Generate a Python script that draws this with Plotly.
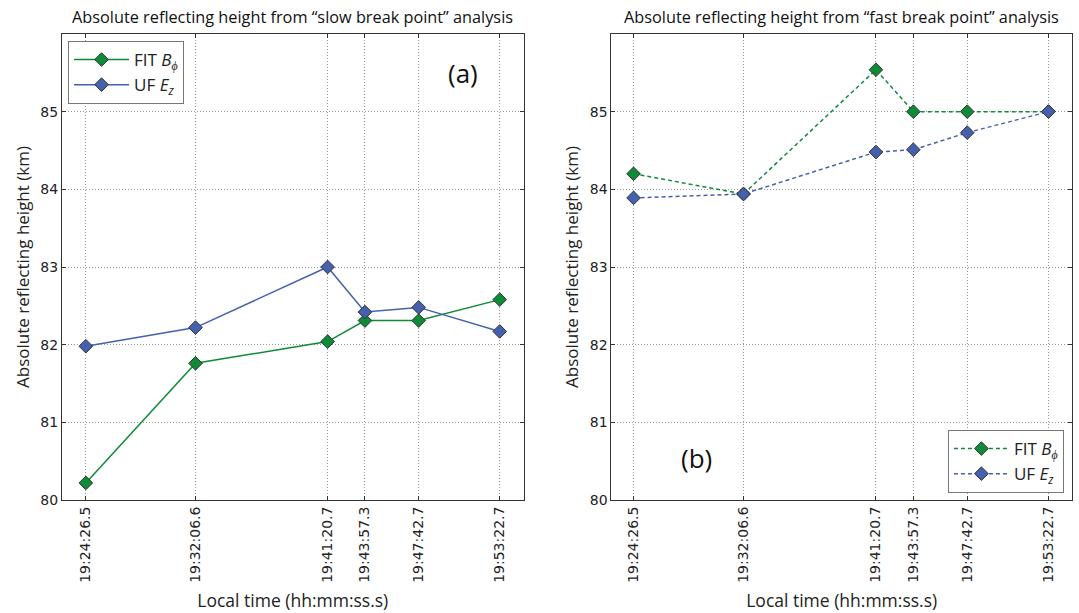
import plotly.graph_objects as go

# Observation times (local) and tick labels
times = ["19:24:26.5", "19:32:06.6", "19:41:20.7", "19:43:57.3", "19:47:42.7", "19:53:22.7"]
day = "2000-01-01 "
x_times = [day + t for t in times]

# Slow break point analysis (km)
slow_fit_bphi = [80.22, 81.76, 82.04, 82.31, 82.31, 82.58]
slow_uf_ez = [81.98, 82.22, 83.00, 82.42, 82.48, 82.17]

# Fast break point analysis (km)
fast_fit_bphi = [84.20, 83.94, 85.54, 85.00, 85.00, 85.00]
fast_uf_ez = [83.89, 83.94, 84.48, 84.51, 84.73, 85.00]

GREEN = "#0f8a38"
BLUE = "#4561ad"
TICK_FONT = dict(family="DejaVu Sans", size=14, color="#222")

fig = go.Figure()

def add_series(x, y, name, color, xaxis, yaxis, legend, dash):
    fig.add_trace(go.Scatter(
        x=x, y=y, name=name, mode="lines+markers",
        xaxis=xaxis, yaxis=yaxis, legend=legend,
        line=dict(color=color, width=1.5, dash=dash),
        marker=dict(symbol="diamond", size=10.5, color=color,
                    line=dict(color="#333", width=1)),
    ))

fit_name = "FIT <i>B</i><sub><i>ϕ</i></sub>"
uf_name = "UF <i>E</i><sub><i>z</i></sub>"

add_series(x_times, slow_fit_bphi, fit_name, GREEN, "x", "y", "legend", "solid")
add_series(x_times, slow_uf_ez, uf_name, BLUE, "x", "y", "legend", "solid")
add_series(x_times, fast_fit_bphi, fit_name, GREEN, "x2", "y2", "legend2", "4px,3px")
add_series(x_times, fast_uf_ez, uf_name, BLUE, "x2", "y2", "legend2", "4px,3px")

xaxis_common = dict(
    type="date", tickmode="array", tickvals=x_times, ticktext=times,
    tickangle=-90, tickfont=TICK_FONT,
    showgrid=True, gridcolor="#999", griddash="1px,2px", gridwidth=1,
    showline=True, linecolor="#333", linewidth=1, mirror="ticks",
    ticks="inside", ticklen=4, tickcolor="#333",
    zeroline=False,
    title=dict(text="Local time (hh:mm:ss.s)",
               font=dict(family="Open Sans", size=17.5, color="#222"), standoff=12),
)
yaxis_common = dict(
    range=[80, 86], tickmode="array", tickvals=[80, 81, 82, 83, 84, 85],
    tickfont=TICK_FONT,
    showgrid=True, gridcolor="#999", griddash="1px,2px", gridwidth=1,
    showline=True, linecolor="#333", linewidth=1, mirror="ticks",
    ticks="inside", ticklen=4, tickcolor="#333",
    zeroline=False,
    title=dict(text="Absolute reflecting height (km)",
               font=dict(family="Open Sans", size=17, color="#222"), standoff=6),
)

legend_common = dict(
    bgcolor="white", bordercolor="#777", borderwidth=1,
    font=dict(family="Open Sans", size=17, color="#222"),
    itemwidth=55, tracegroupgap=4,
)

TITLE_FONT = dict(family="Open Sans", size=16.3, color="#111")

fig.update_layout(
    width=1079, height=613,
    margin=dict(l=62, r=6, t=34, b=111),
    plot_bgcolor="white", paper_bgcolor="white",
    xaxis=dict(domain=[0, 0.457], range=[day + "19:22:46.5", day + "19:55:02.7"], anchor="y", **xaxis_common),
    yaxis=dict(domain=[0, 1], anchor="x", **yaxis_common),
    xaxis2=dict(domain=[0.544, 1], range=[day + "19:22:54", day + "19:55:01"], anchor="y2", **xaxis_common),
    yaxis2=dict(domain=[0, 1], anchor="x2", **yaxis_common),
    legend=dict(x=0.006, y=0.985, xanchor="left", yanchor="top", **legend_common),
    legend2=dict(x=0.992, y=0.015, xanchor="right", yanchor="bottom", **legend_common),
    showlegend=True,
    annotations=[
        dict(text="Absolute reflecting height from “slow break point” analysis",
             xref="paper", yref="paper", x=0.2285, y=1, yshift=17,
             xanchor="center", yanchor="middle",
             showarrow=False, font=TITLE_FONT),
        dict(text="Absolute reflecting height from “fast break point” analysis",
             xref="paper", yref="paper", x=0.772, y=1, yshift=17,
             xanchor="center", yanchor="middle",
             showarrow=False, font=TITLE_FONT),
        dict(text="(a)", xref="x domain", yref="y domain", x=0.868, y=0.917,
             xanchor="center", yanchor="middle",
             showarrow=False, font=dict(family="Open Sans", size=26, color="#111")),
        dict(text="(b)", xref="x2 domain", yref="y2 domain", x=0.184, y=0.09,
             xanchor="center", yanchor="middle",
             showarrow=False, font=dict(family="Open Sans", size=26, color="#111")),
    ],
)

fig.write_html("out.html")
